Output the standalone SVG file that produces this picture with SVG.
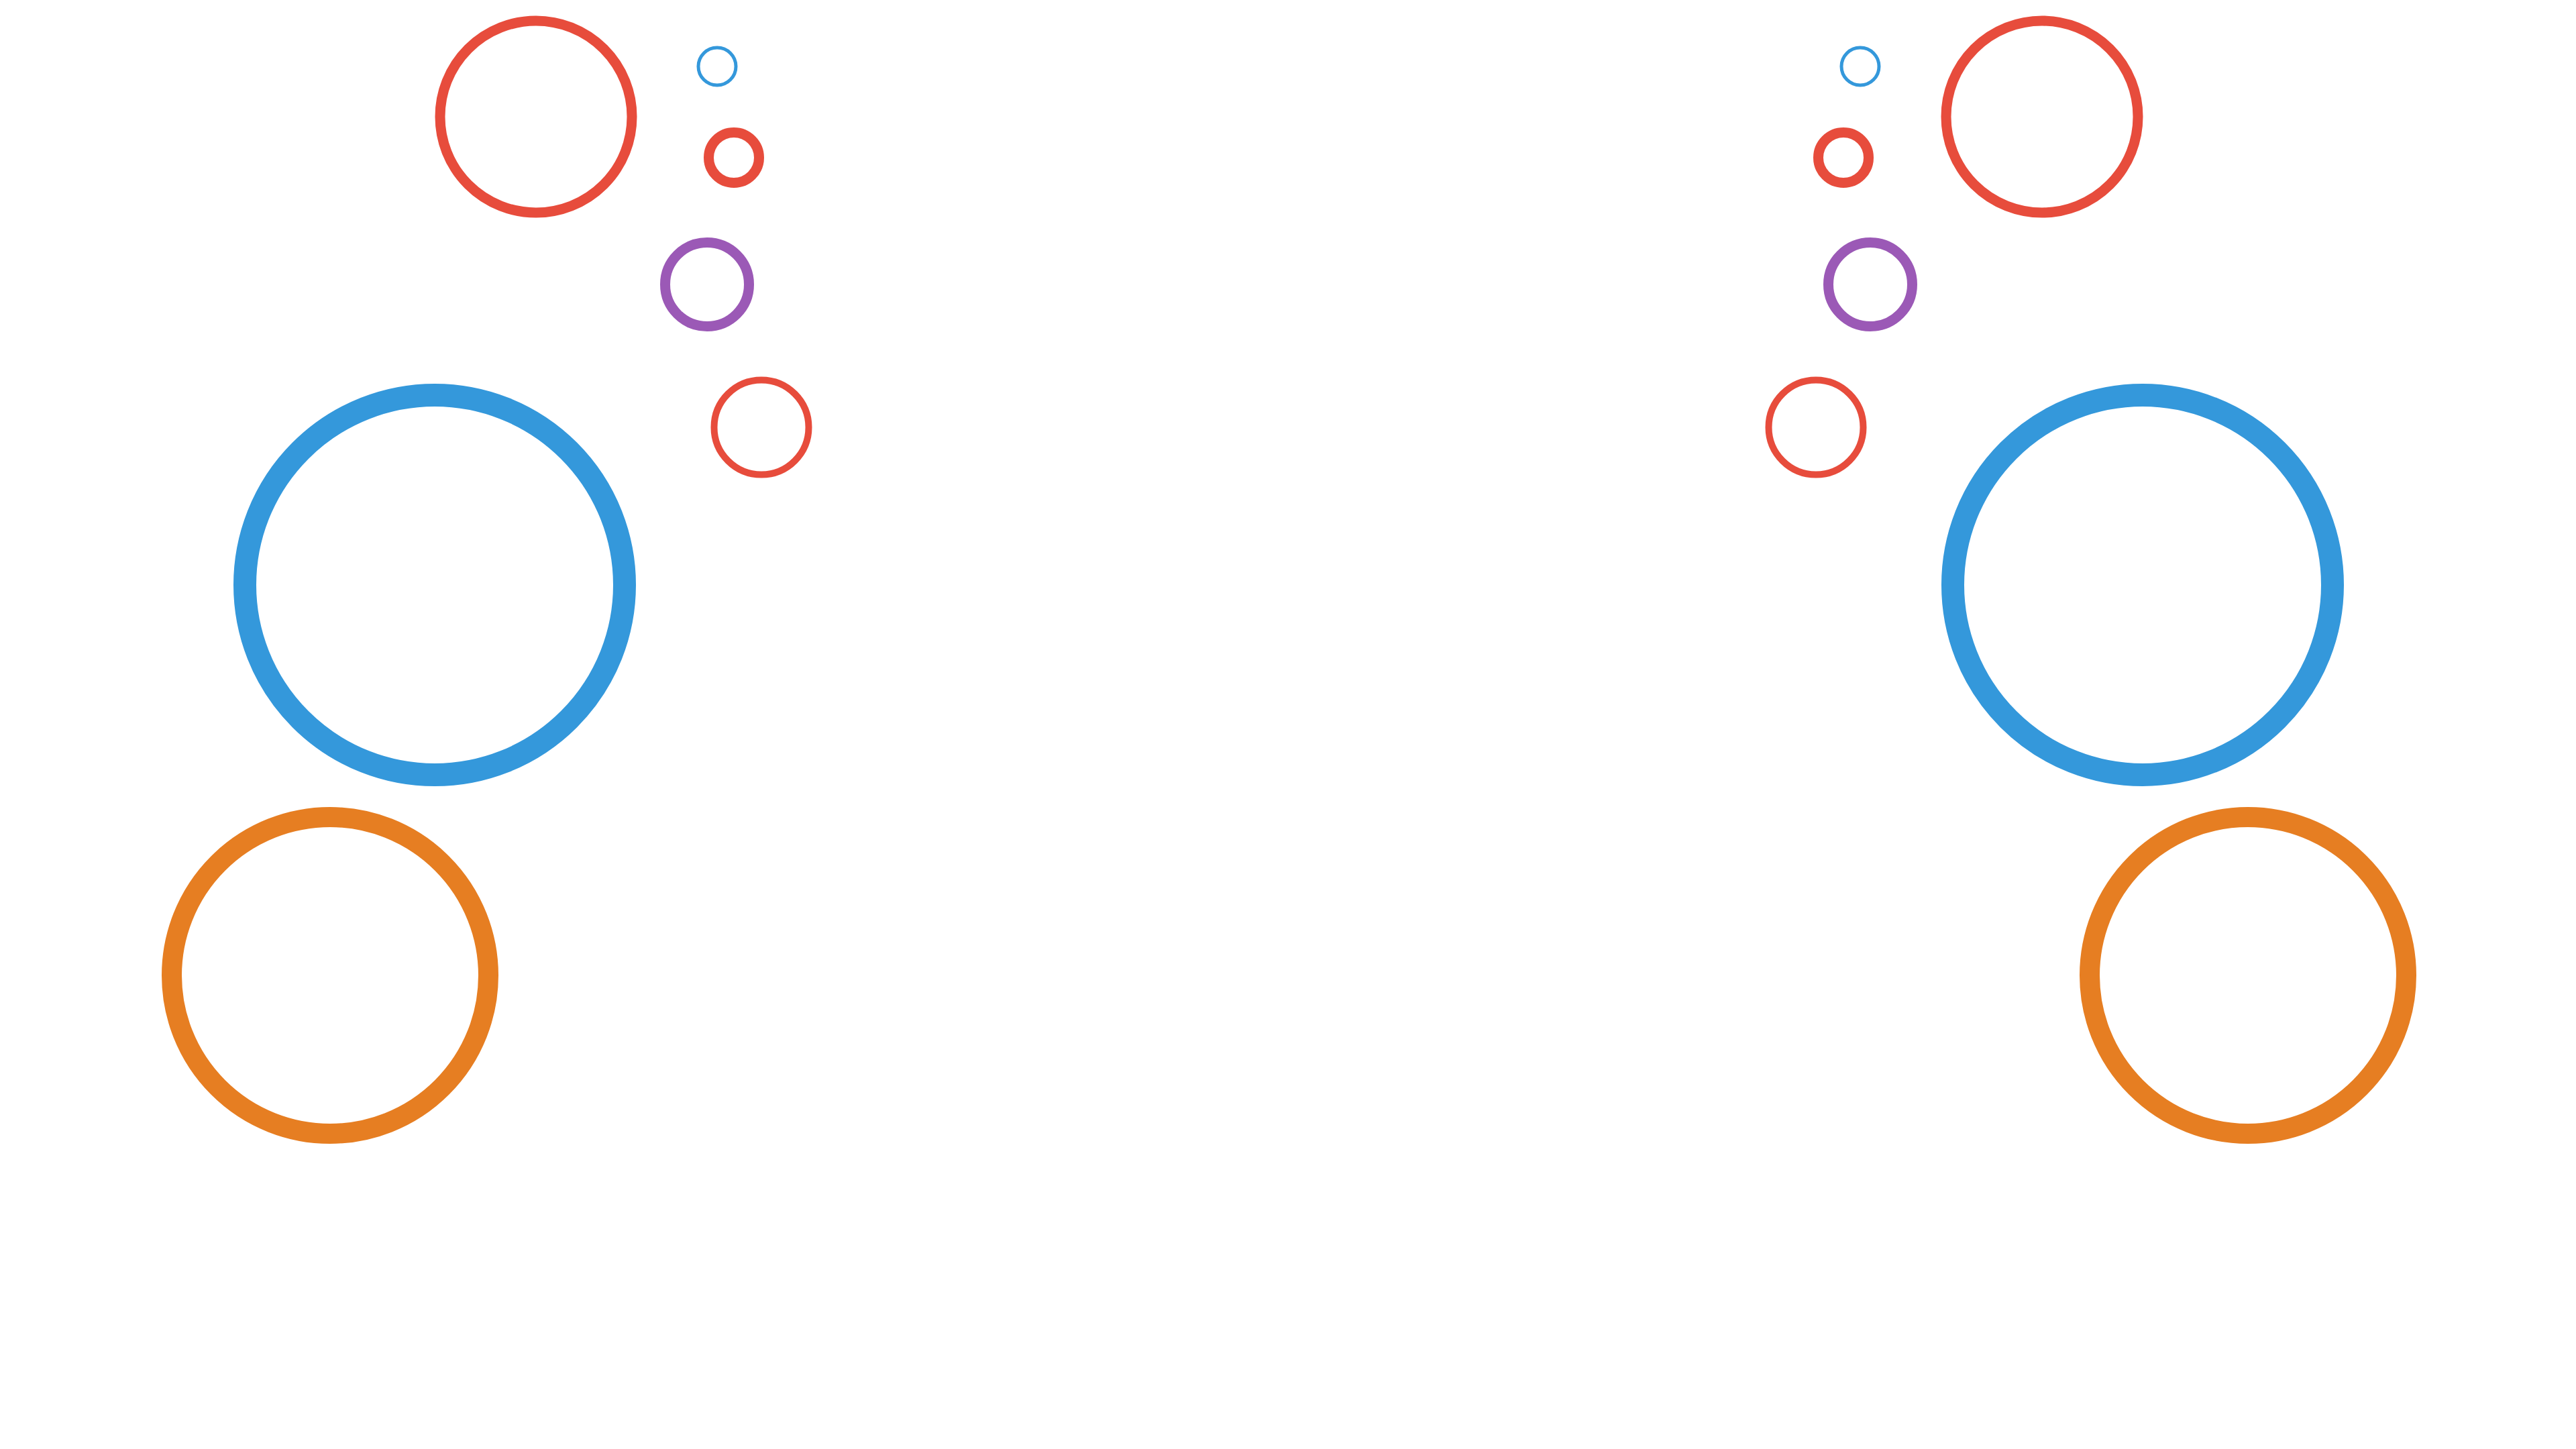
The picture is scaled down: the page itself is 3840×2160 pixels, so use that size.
<svg xmlns="http://www.w3.org/2000/svg" width="3840" height="2160" viewBox="0 0 3840 2160">
<style>
.n{fill:none}
.red{stroke:#E74C3C}
.blue{stroke:#3498DB}
.purple{stroke:#9B59B6}
.orange{stroke:#E67E22}
</style>
<rect width="3840" height="2160" fill="#FFFFFF"/>
<g id="connectors"></g>
<g id="node-left-red-large"><circle class="n red" cx="799" cy="174" r="143" stroke-width="15"/></g>
<g id="node-left-blue-small"><circle class="n blue" cx="1069" cy="99" r="28" stroke-width="5"/></g>
<g id="node-left-red-small"><circle class="n red" cx="1094" cy="235" r="37.5" stroke-width="15"/></g>
<g id="node-left-purple"><circle class="n purple" cx="1054" cy="424" r="62.5" stroke-width="15"/></g>
<g id="node-left-red-mid"><circle class="n red" cx="1135" cy="637" r="70.5" stroke-width="10"/></g>
<g id="node-left-blue-large"><circle class="n blue" cx="648" cy="872" r="283" stroke-width="34"/></g>
<g id="node-left-orange"><circle class="n orange" cx="492" cy="1454" r="236" stroke-width="30"/></g>
<g id="node-right-red-large"><circle class="n red" cx="3044" cy="174" r="143" stroke-width="15"/></g>
<g id="node-right-blue-small"><circle class="n blue" cx="2773" cy="99" r="28" stroke-width="5"/></g>
<g id="node-right-red-small"><circle class="n red" cx="2748" cy="235" r="37.5" stroke-width="15"/></g>
<g id="node-right-purple"><circle class="n purple" cx="2788" cy="424" r="62.5" stroke-width="15"/></g>
<g id="node-right-red-mid"><circle class="n red" cx="2707" cy="637" r="70.5" stroke-width="10"/></g>
<g id="node-right-blue-large"><circle class="n blue" cx="3194" cy="872" r="283" stroke-width="34"/></g>
<g id="node-right-orange"><circle class="n orange" cx="3351" cy="1454" r="236" stroke-width="30"/></g>
</svg>
